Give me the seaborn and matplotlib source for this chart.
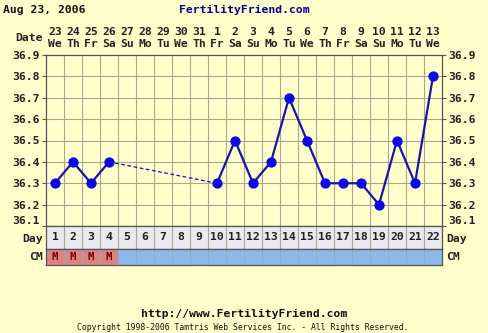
import matplotlib
matplotlib.use("Agg")
import matplotlib.pyplot as plt
import seaborn as sns
import pandas as pd
import numpy as np

# ---- data ----
cycle_days = list(range(1, 23))
dates = ["23", "24", "25", "26", "27", "28", "29", "30", "31", "1", "2", "3",
         "4", "5", "6", "7", "8", "9", "10", "11", "12", "13"]
weekdays = ["We", "Th", "Fr", "Sa", "Su", "Mo", "Tu", "We", "Th", "Fr", "Sa", "Su",
            "Mo", "Tu", "We", "Th", "Fr", "Sa", "Su", "Mo", "Tu", "We"]
temps = [36.3, 36.4, 36.3, 36.4, None, None, None, None, None, 36.3, 36.5, 36.3,
         36.4, 36.7, 36.5, 36.3, 36.3, 36.3, 36.2, 36.5, 36.3, 36.8]
cm = ["M", "M", "M", "M"] + [""] * 18
y_ticks = [36.1, 36.2, 36.3, 36.4, 36.5, 36.6, 36.7, 36.8, 36.9]
header_date = "Aug 23, 2006"
site = "FertilityFriend.com"
url = "http://www.FertilityFriend.com"
copyright_txt = "Copyright 1998-2006 Tamtris Web Services Inc. - All Rights Reserved."

# ---- styling ----
sns.set_style("white")
plt.rcParams["font.family"] = ["DejaVu Sans Mono", "DejaVu Sans"]
BG = "#FFFFCC"
GRID = "#A8A890"
LINE = "#1515A8"
MARK = "#0A0AE6"
TXT = "#222222"
FS = 8.2

W, H = 488, 333
fig = plt.figure(figsize=(W / 100, H / 100), dpi=100, facecolor=BG)

def rect(x0, y_top, x1, y_bot):
    return [x0 / W, 1 - y_bot / H, (x1 - x0) / W, (y_bot - y_top) / H]

ax = fig.add_axes(rect(46, 55, 442, 226))
ax_day = fig.add_axes(rect(46, 226, 442, 249))
ax_cm = fig.add_axes(rect(46, 249, 442, 265))

df = pd.DataFrame({"day": cycle_days, "temp": temps})
df["temp"] = pd.to_numeric(df["temp"])
valid = df.dropna().reset_index(drop=True)
valid["seg"] = (valid["day"].diff().fillna(1) > 1).cumsum()

ax.set_facecolor(BG)
# dashed connectors across gaps
for i in range(1, len(valid)):
    if valid.loc[i, "day"] - valid.loc[i - 1, "day"] > 1:
        gap = valid.iloc[i - 1:i + 1]
        sns.lineplot(data=gap, x="day", y="temp", ax=ax, color=LINE, lw=0.9,
                     linestyle=(0, (3, 2)), estimator=None, sort=False, zorder=3)
for s, g in valid.groupby("seg"):
    sns.lineplot(data=g, x="day", y="temp", ax=ax, color=LINE, lw=1.6,
                 estimator=None, sort=False, zorder=4)
sns.scatterplot(data=valid, x="day", y="temp", ax=ax, color=MARK, s=55,
                edgecolor=MARK, linewidth=0, zorder=5)

ax.set_xlim(0.5, 22.5)
ax.set_ylim(36.1, 36.9)
ax.set_yticks(y_ticks)
ax.set_yticklabels([f"{v:.1f}" for v in y_ticks], fontsize=FS, fontweight="bold", color=TXT)
ax.tick_params(axis="y", left=True, right=True, labelleft=True, labelright=True,
               length=3, width=0.8, color="#555555", pad=1.5)
for lab in ax.yaxis.get_ticklabels(which="both"):
    pass
# lowest labels sit just above the bottom line
ax.yaxis.get_majorticklabels()[0].set_va("bottom")
for t in ax.yaxis.get_major_ticks()[:1]:
    t.label2.set_va("bottom")
ax.set_xticks([])
for v in y_ticks[1:-1]:
    ax.axhline(v, color=GRID, lw=0.8, zorder=1)
for b in np.arange(1.5, 22.5, 1):
    ax.axvline(b, color=GRID, lw=0.8, zorder=1)
ax.set_xlabel("")
ax.set_ylabel("")
for sp in ax.spines.values():
    sp.set_color("#555555")
    sp.set_linewidth(0.9)
if ax.get_legend():
    ax.get_legend().remove()

# date labels
for d, dt, wd in zip(cycle_days, dates, weekdays):
    ax.text(d, 1.0 + 23 / 171, dt, transform=ax.get_xaxis_transform(), ha="center",
            va="center", fontsize=FS, fontweight="bold", color=TXT)
    ax.text(d, 1.0 + 11 / 171, wd, transform=ax.get_xaxis_transform(), ha="center",
            va="center", fontsize=FS, fontweight="bold", color=TXT)
fig.text(43 / W, 1 - 38 / H, "Date", ha="right", va="center", fontsize=FS,
         fontweight="bold", color=TXT)

# day row
ax_day.set_facecolor("#E9E9EE")
ax_day.set_xlim(0.5, 22.5)
ax_day.set_ylim(0, 1)
for d in cycle_days:
    ax_day.text(d, 0.5, str(d), ha="center", va="center", fontsize=FS,
                fontweight="bold", color=TXT)
for b in np.arange(1.5, 22.5, 1):
    ax_day.axvline(b, color=GRID, lw=0.8)
ax_day.set_xticks([])
ax_day.set_yticks([])
for sp in ax_day.spines.values():
    sp.set_color("#555555")
    sp.set_linewidth(0.9)
fig.text(43 / W, 1 - 239 / H, "Day", ha="right", va="center", fontsize=FS,
         fontweight="bold", color=TXT)
fig.text(446 / W, 1 - 239 / H, "Day", ha="left", va="center", fontsize=FS,
         fontweight="bold", color=TXT)

# CM row
ax_cm.set_xlim(0.5, 22.5)
ax_cm.set_ylim(0, 1)
for d, c in zip(cycle_days, cm):
    ax_cm.axvspan(d - 0.5, d + 0.5, color="#D98585" if c == "M" else "#8CB9EA", lw=0)
    if c:
        ax_cm.text(d, 0.5, c, ha="center", va="center", fontsize=FS - 0.5,
                   fontweight="bold", color="#7A0000")
for b in np.arange(1.5, 22.5, 1):
    ax_cm.axvline(b, color="#9AA8B8", lw=0.6)
ax_cm.set_xticks([])
ax_cm.set_yticks([])
for sp in ax_cm.spines.values():
    sp.set_color("#555555")
    sp.set_linewidth(0.9)
fig.text(43 / W, 1 - 257 / H, "CM", ha="right", va="center", fontsize=FS,
         fontweight="bold", color=TXT)
fig.text(446 / W, 1 - 257 / H, "CM", ha="left", va="center", fontsize=FS,
         fontweight="bold", color=TXT)

# header / footer
fig.text(3 / W, 1 - 10 / H, header_date, ha="left", va="center", fontsize=FS,
         fontweight="bold", color="#111111")
fig.text(244 / W, 1 - 10 / H, site, ha="center", va="center", fontsize=FS,
         fontweight="bold", color="#000099")
fig.text(244 / W, 1 - 314 / H, url, ha="center", va="center", fontsize=FS,
         fontweight="bold", color="#111111")
fig.text(243 / W, 1 - 327 / H, copyright_txt, ha="center", va="center", fontsize=5.9,
         color="#111111")

fig.savefig("out.png", dpi=100, facecolor=BG)
